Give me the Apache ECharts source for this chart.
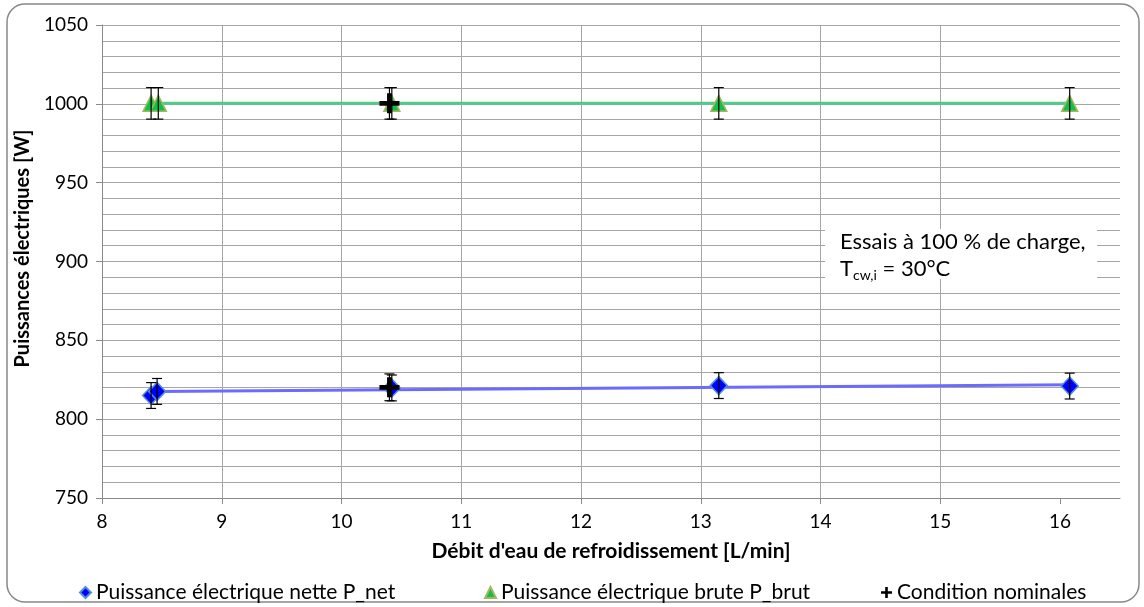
<!DOCTYPE html>
<html><head><meta charset="utf-8">
<script src="https://cdn.jsdelivr.net/npm/echarts@6/dist/echarts.min.js"></script>
<style>html,body{margin:0;padding:0;background:#fff}#c{width:1144px;height:607px}</style>
</head><body><div id="c"></div>
<script>
// ---- data ----
const flowNet = [8.41, 8.46, 10.42, 13.15, 16.08];
const pNet = [815.0, 817.6, 819.8, 821.3, 821.0];
const errNet = [8.2, 8.2, 8.2, 8.2, 8.2];

const flowBrut = [8.41, 8.47, 10.42, 13.15, 16.08];
const pBrut = [1000.3, 1000.3, 1000.3, 1000.3, 1000.3];
const errBrut = [10, 10, 10, 10, 10];

const flowNominal = [10.40, 10.40];
const pNominal = [1000.3, 820.2];
const errNominal = [10, 8.5];

const trendNetX = [8.46, 16.1];
const trendNetY = [817.6, 821.9];
const trendBrutX = [8.46, 16.1];
const trendBrutY = [1000.4, 1000.4];

const xTicks = [8, 9, 10, 11, 12, 13, 14, 15, 16];
const yMin = 750, yMax = 1050, yStep = 50;
const xMin = 8, xMax = 16.5;

const names = ['Puissance électrique nette P_net', 'Puissance électrique brute P_brut', 'Condition nominales'];
const xTitle = "Débit d'eau de refroidissement [L/min]";
const yTitle = 'Puissances électriques [W]';

const FONT = 'Lato';
const zip = (a, b) => a.map((v, i) => [v, b[i]]);
const plusPath = 'path://M8,0H13V8H21V13H13V21H8V13H0V8H8Z';

function errorSeries(name, xs, ys, es, z) {
  return {
    name, type: 'custom', silent: true, z,
    data: xs.map((x, i) => [x, ys[i] - es[i], ys[i] + es[i]]),
    encode: { x: 0, y: [1, 2] },
    renderItem(params, api) {
      const lo = api.coord([api.value(0), api.value(1)]);
      const hi = api.coord([api.value(0), api.value(2)]);
      const w = 5;
      const s = { stroke: '#000', lineWidth: 1.2 };
      return { type: 'group', children: [
        { type: 'line', shape: { x1: lo[0], y1: lo[1], x2: hi[0], y2: hi[1] }, style: s },
        { type: 'line', shape: { x1: lo[0] - w, y1: lo[1], x2: lo[0] + w, y2: lo[1] }, style: s },
        { type: 'line', shape: { x1: hi[0] - w, y1: hi[1], x2: hi[0] + w, y2: hi[1] }, style: s }
      ] };
    }
  };
}

const chart = echarts.init(document.getElementById('c'), null, { renderer: 'canvas' });
const legendBase = {
  orient: 'horizontal', top: 577, itemWidth: 11, itemHeight: 11,
  textStyle: { fontFamily: FONT, fontSize: 21, color: '#000' }, selectedMode: false
};
chart.setOption({
  animation: false,
  backgroundColor: '#fff',
  textStyle: { fontFamily: FONT },
  grid: { left: 102, right: 24, top: 25, bottom: 109, containLabel: false },
  legend: [
    Object.assign({}, legendBase, { left: 74, data: [names[0]] }),
    Object.assign({}, legendBase, { left: 479, data: [names[1]] }),
    Object.assign({}, legendBase, { left: 876, data: [names[2]] })
  ],
  xAxis: {
    type: 'value', min: xMin, max: xMax, interval: 1,
    name: xTitle, nameLocation: 'middle', nameGap: 43,
    nameTextStyle: { fontFamily: FONT, fontSize: 21, fontWeight: 'bold', color: '#000' },
    axisLine: { show: true, lineStyle: { color: '#8a8a8a', width: 1 } },
    axisTick: { show: true, length: 6, customValues: xTicks, lineStyle: { color: '#8a8a8a' } },
    axisLabel: { customValues: xTicks, fontFamily: FONT, fontSize: 19, color: '#000', margin: 14 },
    splitLine: { show: true, showMaxLine: false, lineStyle: { color: '#a6a6a6', width: 1 } }
  },
  yAxis: {
    type: 'value', min: yMin, max: yMax, interval: yStep,
    name: yTitle, nameLocation: 'middle', nameGap: 66,
    nameTextStyle: { fontFamily: FONT, fontSize: 20, fontWeight: 'bold', color: '#000', padding: [0, 0, 0, 26] },
    axisLine: { show: true, lineStyle: { color: '#8a8a8a', width: 1 } },
    axisTick: { show: true, length: 6, lineStyle: { color: '#8a8a8a' } },
    axisLabel: { fontFamily: FONT, fontSize: 19, color: '#000', margin: 14, formatter: v => String(v) },
    splitLine: { show: true, lineStyle: { color: '#a6a6a6', width: 1 } },
    minorTick: { show: false, splitNumber: 5 },
    minorSplitLine: { show: true, lineStyle: { color: '#a6a6a6', width: 1 } }
  },
  graphic: [
    { type: 'rect', silent: true, z: 0, shape: { x: 7, y: 4, width: 1132, height: 598, r: 18 },
      style: { fill: 'none', stroke: '#888', lineWidth: 1.5 } },
    { type: 'rect', silent: true, z: 100, shape: { x: 825, y: 229, width: 272, height: 50 },
      style: { fill: '#fff' } },
    { type: 'text', silent: true, z: 101, x: 840, y: 228,
      style: {
        text: '{a|Essais à 100 % de charge,}\n{a|T}{s|cw,i}{a| = 30°C}',
        rich: {
          a: { fontFamily: FONT, fontSize: 22, lineHeight: 27, fill: '#000' },
          s: { fontFamily: FONT, fontSize: 14, lineHeight: 12, verticalAlign: 'bottom', fill: '#000' }
        }
      } }
  ],
  series: [
    { name: 'trendNet', type: 'line', data: zip(trendNetX, trendNetY), symbol: 'none', silent: true, z: 2,
      lineStyle: { color: '#6b6bff', width: 3 } },
    { name: 'trendBrut', type: 'line', data: zip(trendBrutX, trendBrutY), symbol: 'none', silent: true, z: 2,
      lineStyle: { color: '#50cc8a', width: 3 } },
    { name: names[0], type: 'scatter', data: zip(flowNet, pNet), symbol: 'diamond', symbolSize: [17, 18], z: 3,
      itemStyle: { color: '#0000ff', borderColor: '#4f8fd6', borderWidth: 1.5, opacity: 1 } },
    { name: names[1], type: 'scatter', data: zip(flowBrut, pBrut), symbol: 'triangle', symbolSize: [16, 16], z: 3,
      itemStyle: { color: '#12bf4c', borderColor: '#a3b85c', borderWidth: 1.5, opacity: 1 } },
    errorSeries('errNet', flowNet, pNet, errNet, 4),
    errorSeries('errBrut', flowBrut, pBrut, errBrut, 4),
    errorSeries('errNominal', flowNominal, pNominal, errNominal, 4),
    { name: names[2], type: 'scatter', data: zip(flowNominal, pNominal), symbol: plusPath, symbolSize: 20, z: 5,
      itemStyle: { color: '#000', opacity: 1 } }
  ]
});
</script></body></html>
